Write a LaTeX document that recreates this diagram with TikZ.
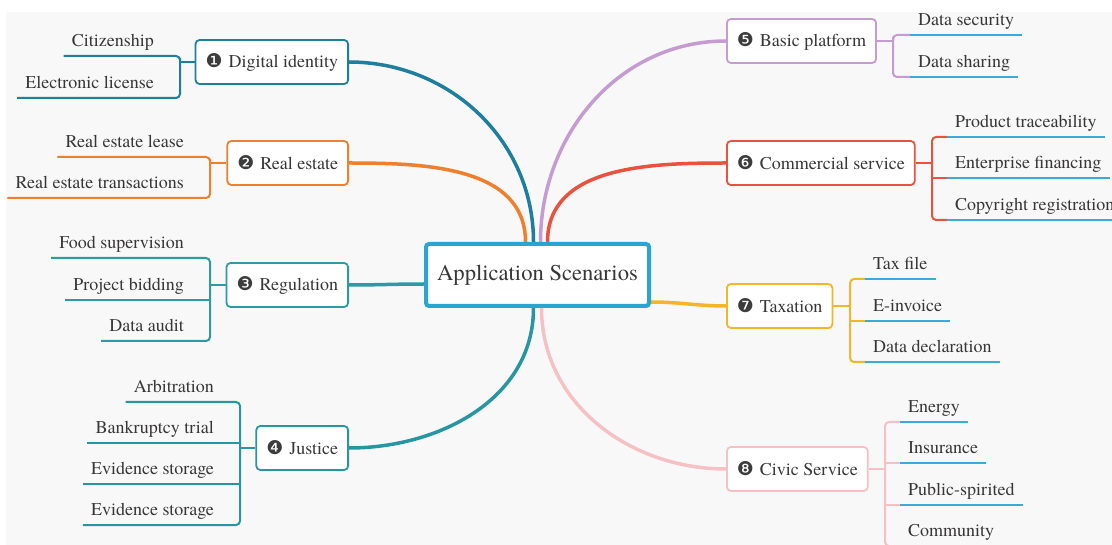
\documentclass[tikz,border=0pt]{standalone}
\usepackage{fontspec}
\setmainfont{texgyretermes-regular.otf}
\newfontfamily\numfont{DejaVu Sans}
\definecolor{bgc}{HTML}{F8F8F8}
\definecolor{txtc}{HTML}{383636}
\definecolor{numc}{HTML}{3C3C3C}
\definecolor{rootc}{HTML}{2AA5D2}
\definecolor{identc}{HTML}{1E7E9E}
\definecolor{estatec}{HTML}{EE7F2D}
\definecolor{regulc}{HTML}{2E9AA6}
\definecolor{justc}{HTML}{2896A2}
\definecolor{platc}{HTML}{C59CD2}
\definecolor{commc}{HTML}{E9523F}
\definecolor{taxc}{HTML}{F6B42A}
\definecolor{civicc}{HTML}{F6C1C5}
\definecolor{leafc}{HTML}{3AA9DC}
\newcommand{\topicno}[1]{{\numfont\fontsize{19}{19}\selectfont\color{numc}#1}\hspace{6pt}}
\pgfdeclarelayer{bg}
\pgfsetlayers{bg,main}
\tikzset{
  root/.style={draw=rootc, line width=4pt, rounded corners=3pt, fill=white, text=txtc,
    minimum width=223pt, minimum height=62pt, font=\fontsize{22.6}{27}\selectfont},
  topic/.style={line width=1.8pt, rounded corners=4pt, fill=white, text=txtc,
    minimum height=44pt, inner xsep=10pt, font=\fontsize{18}{21}\selectfont},
  leaf/.style={text=txtc, inner xsep=8pt, inner ysep=9.5pt, text depth=0pt,
    font=\fontsize{18}{21}\selectfont},
  branch/.style={line width=3.5pt},
  twig/.style={line width=2pt, rounded corners=4pt},
  underline/.style={line width=2pt, leafc},
}
\begin{document}
\begin{tikzpicture}[x=1pt, y=-1pt]
    \useasboundingbox (0,0) rectangle (1112,545);
    \clip (0,0) rectangle (1112,545);

    \node[root] (app) at (537.5,275) {Application Scenarios};

    % Left topics
    \node[topic, draw=identc, anchor=east] (ident) at (349,62) {\topicno{❶}Digital identity};
    \node[topic, draw=estatec, anchor=east] (estate) at (349,163) {\topicno{❷}Real estate};
    \node[topic, draw=regulc, anchor=east] (regul) at (349,285) {\topicno{❸}Regulation};
    \node[topic, draw=justc, anchor=east] (justice) at (349,448) {\topicno{❹}Justice};

    % Right topics
    \node[topic, draw=platc, anchor=west] (platform) at (726,41) {\topicno{❺}Basic platform};
    \node[topic, draw=commc, anchor=west] (commerce) at (726,163) {\topicno{❻}Commercial service};
    \node[topic, draw=taxc, anchor=west] (tax) at (726,306) {\topicno{❼}Taxation};
    \node[topic, draw=civicc, anchor=west] (civic) at (726,469) {\topicno{❽}Civic Service};

    % Junctions of the brackets
    \coordinate (identj) at (180,62);
    \coordinate (estatej) at (210,163);
    \coordinate (regulj) at (210,285);
    \coordinate (justj) at (240,448);
    \coordinate (platj) at (893,41);
    \coordinate (commj) at (932,163);
    \coordinate (taxj) at (850,306);
    \coordinate (civicj) at (885,469);

    % Leaves, left side
    \foreach \txt/\y [count=\i] in {Citizenship/56, Electronic license/98}
        \node[leaf, anchor=south east] (ident\i) at (162,\y) {\txt};
    \foreach \txt/\y [count=\i] in {Real estate lease/157, Real estate transactions/198}
        \node[leaf, anchor=south east] (estate\i) at (192,\y) {\txt};
    \foreach \txt/\y [count=\i] in {Food supervision/258, Project bidding/300, Data audit/341}
        \node[leaf, anchor=south east] (regul\i) at (192,\y) {\txt};
    \foreach \txt/\y [count=\i] in {Arbitration/402, Bankruptcy trial/443, Evidence storage/484, Evidence storage/525}
        \node[leaf, anchor=south east] (just\i) at (222,\y) {\txt};

    % Leaves, right side
    \foreach \txt/\y [count=\i] in {Data security/35, Data sharing/77}
        \node[leaf, anchor=south west] (plat\i) at (910,\y) {\txt};
    \foreach \txt/\y [count=\i] in {Product traceability/137, Enterprise financing/178, Copyright registration/220}
        \node[leaf, anchor=south west] (comm\i) at (947,\y) {\txt};
    \foreach \txt/\y [count=\i] in {Tax file/279, E-invoice/321, Data declaration/362}
        \node[leaf, anchor=south west] (tax\i) at (865,\y) {\txt};
    \foreach \txt/\y [count=\i] in {Energy/422, Insurance/463, Public-spirited/505, Community/546}
        \node[leaf, anchor=south west] (civic\i) at (900,\y) {\txt};

    \begin{pgfonlayer}{bg}
    \fill[white] (0,0) rectangle (1112,545);
    \fill[bgc] (6,12) rectangle (1112,545);
    % Main branches
    \draw[branch, identc] ([xshift=-4pt]app.north) to[out=90, in=0] (ident.east);
    \draw[branch, estatec] ([xshift=-12pt]app.north) to[out=90, in=0] (estate.east);
    \draw[branch, regulc] ([yshift=-9pt]app.west) to[out=180, in=0] (regul.east);
    \draw[branch, justc] ([xshift=-4pt]app.south) to[out=-90, in=0] (justice.east);
    \draw[branch, platc] ([xshift=3pt]app.north) to[out=90, in=180] (platform.west);
    \draw[branch, commc] ([xshift=10pt]app.north) to[out=90, in=180] (commerce.west);
    \draw[branch, taxc] ([yshift=-27pt]app.east) to[out=0, in=180] (tax.west);
    \draw[branch, civicc] ([xshift=4pt]app.south) to[out=-90, in=180] (civic.west);
    \end{pgfonlayer}

    % Brackets
    \draw[twig, identc] (ident1.south west) -| (identj) |- (ident2.south west);
    \draw[twig, identc] (ident.west) -- (identj);
    \draw[twig, estatec] (estate1.south west) -| (estatej) |- (estate2.south west);
    \draw[twig, estatec] (estate.west) -- (estatej);
    \draw[twig, regulc] (regul1.south west) -| (regulj) |- (regul3.south west);
    \draw[twig, regulc] (regul2.south west) -- (regulj |- regul2.south west);
    \draw[twig, regulc] (regul.west) -- (regulj);
    \draw[twig, justc] (just1.south west) -| (justj) |- (just4.south west);
    \foreach \i in {2,3}
        \draw[twig, justc] (just\i.south west) -- (justj |- just\i.south west);
    \draw[twig, justc] (justice.west) -- (justj);

    \draw[twig, platc] (plat1.south west) -| (platj) |- (plat2.south west);
    \draw[twig, platc] (platform.east) -- (platj);
    \draw[twig, commc] (comm1.south west) -| (commj) |- (comm3.south west);
    \draw[twig, commc] (comm2.south west) -- (commj |- comm2.south west);
    \draw[twig, commc] (commerce.east) -- (commj);
    \draw[twig, taxc] (tax1.south west) -| (taxj) |- (tax3.south west);
    \draw[twig, taxc] (tax2.south west) -- (taxj |- tax2.south west);
    \draw[twig, taxc] (tax.east) -- (taxj);
    \draw[twig, civicc] (civic1.south west) -| (civicj) |- (civic4.south west);
    \foreach \i in {2,3}
        \draw[twig, civicc] (civic\i.south west) -- (civicj |- civic\i.south west);
    \draw[twig, civicc] (civic.east) -- (civicj);

    % Blue underlines on the right
    \foreach \n in {plat1,plat2,comm1,comm2,comm3,tax1,tax2,tax3,civic1,civic2,civic3,civic4}
        \draw[underline] (\n.south west) -- (\n.south east);
\end{tikzpicture}
\end{document}
